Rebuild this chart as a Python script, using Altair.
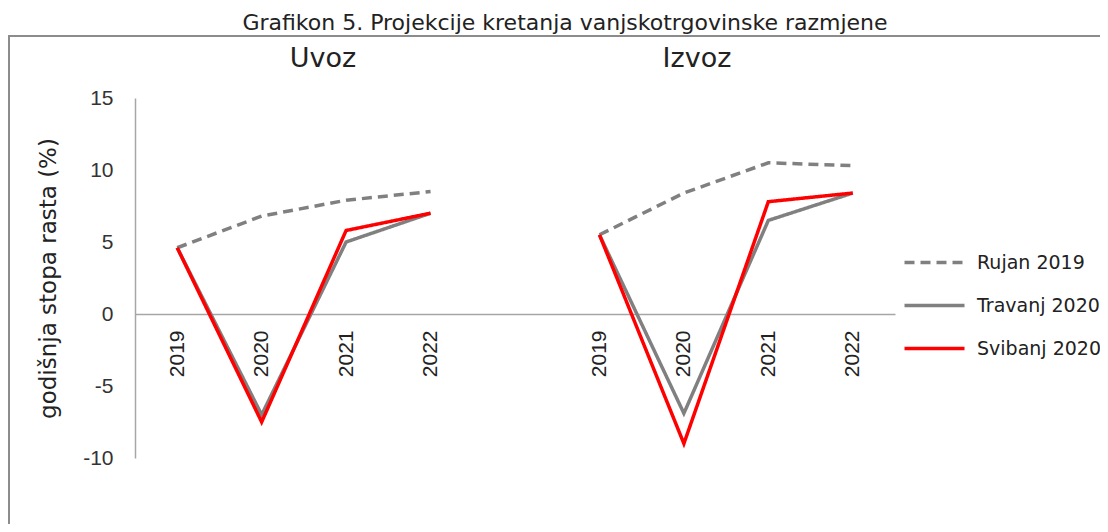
import altair as alt
import pandas as pd

# ---- data ----
chart_title = "Grafikon 5. Projekcije kretanja vanjskotrgovinske razmjene"
y_title = "godišnja stopa rasta (%)"
years = ["2019", "2020", "2021", "2022"]
groups = ["Uvoz", "Izvoz"]
series = ["Rujan 2019", "Travanj 2020", "Svibanj 2020"]

uvoz_rujan = [4.6, 6.8, 7.9, 8.5]
uvoz_travanj = [4.6, -7.0, 5.0, 7.0]
uvoz_svibanj = [4.6, -7.5, 5.8, 7.0]
izvoz_rujan = [5.5, 8.4, 10.5, 10.3]
izvoz_travanj = [5.5, -6.9, 6.5, 8.4]
izvoz_svibanj = [5.5, -9.0, 7.8, 8.4]

y_ticks = [-10, -5, 0, 5, 10, 15]

values = {
    ("Uvoz", "Rujan 2019"): uvoz_rujan,
    ("Uvoz", "Travanj 2020"): uvoz_travanj,
    ("Uvoz", "Svibanj 2020"): uvoz_svibanj,
    ("Izvoz", "Rujan 2019"): izvoz_rujan,
    ("Izvoz", "Travanj 2020"): izvoz_travanj,
    ("Izvoz", "Svibanj 2020"): izvoz_svibanj,
}

rows = []
for gi, g in enumerate(groups):
    for s in series:
        for yi, yr in enumerate(years):
            rows.append({"group": g, "series": s, "year": yr,
                         "pos": gi * (len(years) + 1) + yi,
                         "value": values[(g, s)][yi]})
df = pd.DataFrame(rows)

n_slots = len(groups) * (len(years) + 1) - 1
tick_positions = [gi * (len(years) + 1) + yi for gi in range(len(groups)) for yi in range(len(years))]
slot_labels = []
for gi in range(len(groups)):
    slot_labels += years
    if gi < len(groups) - 1:
        slot_labels.append("")
label_expr = "[" + ",".join("'%s'" % l for l in slot_labels) + "][datum.value]"

W, H = 760, 360
GREY = "#808080"
RED = "#ff0000"

legend = alt.Legend(
    orient="none", legendX=815, legendY=155, title=None,
    symbolType="M-11,0L1,0", symbolSize=100, symbolStrokeWidth=3.5,
    labelFont="DejaVu Sans", labelFontSize=19, labelColor="#222222",
    labelOffset=8, rowPadding=23,
)

x_enc = alt.X(
    "pos:Q",
    scale=alt.Scale(domain=[-0.5, n_slots - 0.5], nice=False, zero=False),
    axis=alt.Axis(
        values=tick_positions, labelExpr=label_expr, labelAngle=270,
        labelAlign="right", labelBaseline="middle", ticks=False, grid=False,
        domainColor="#a6a6a6", domainWidth=1.5, labelPadding=16, offset=-144,
        labelFont="Liberation Sans", labelFontSize=21, labelColor="#222222",
        labelFlush=False, labelOverlap=False, title=None,
    ),
)
y_enc = alt.Y(
    "value:Q",
    scale=alt.Scale(domain=[-10, 15], nice=False, zero=False),
    axis=alt.Axis(
        values=y_ticks, labelExpr="'' + datum.value", ticks=False, grid=False,
        domainColor="#a6a6a6", domainWidth=1.5, labelPadding=22,
        labelFont="Liberation Sans", labelFontSize=21, labelColor="#333333",
        title=y_title, titleFont="DejaVu Sans", titleFontSize=23,
        titleFontWeight="normal", titleColor="#222222", titlePadding=22,
    ),
)
color_enc = alt.Color("series:N", scale=alt.Scale(domain=series, range=[GREY, GREY, RED]), legend=legend)
dash_enc = alt.StrokeDash("series:N", scale=alt.Scale(domain=series, range=[[10, 6], [1, 0], [1, 0]]), legend=legend)

base = alt.Chart(df)
line_layers = []
for s in series:
    line_layers.append(
        base.transform_filter(alt.datum.series == s)
        .mark_line(strokeWidth=3.5)
        .encode(x=x_enc, y=y_enc, color=color_enc, strokeDash=dash_enc, detail="group:N")
    )

one = alt.Chart(pd.DataFrame({"k": [0]}))
frame = one.mark_rect(filled=False, stroke="#8c8c8c", strokeWidth=2).encode(
    x=alt.value(-126), y=alt.value(-62), x2=alt.value(1200), y2=alt.value(700)
)
title_mark = one.mark_text(
    text=chart_title, font="DejaVu Sans", fontSize=22, color="#222222",
    align="center", baseline="alphabetic"
).encode(x=alt.value(430), y=alt.value(-68.5))
uvoz_mark = one.mark_text(
    text=groups[0], font="DejaVu Sans", fontSize=27, color="#222222",
    align="center", baseline="alphabetic"
).encode(x=alt.value(188), y=alt.value(-31))
izvoz_mark = one.mark_text(
    text=groups[1], font="DejaVu Sans", fontSize=27, color="#222222",
    align="center", baseline="alphabetic"
).encode(x=alt.value(562), y=alt.value(-31))

chart = alt.layer(frame, title_mark, uvoz_mark, izvoz_mark, *line_layers).properties(
    width=W, height=H,
    autosize=alt.AutoSizeParams(type="none"),
    padding={"left": 127, "top": 90, "right": 205, "bottom": 66},
    background="white",
).configure_view(stroke=None)

chart.save("out.html", embed_options={"renderer": "svg", "actions": False})
